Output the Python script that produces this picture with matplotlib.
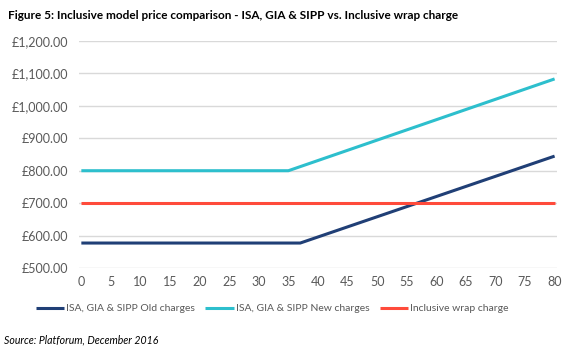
import matplotlib
matplotlib.use("Agg")
import matplotlib.pyplot as plt
from matplotlib.ticker import FuncFormatter, MultipleLocator

# values
old_x = [0, 37, 80]
old_y = [577, 577, 845]
new_x = [0, 35, 80]
new_y = [800, 800, 1083]
wrap_x = [0, 80]
wrap_y = [700, 700]

labels = [
    "ISA, GIA & SIPP Old charges",
    "ISA, GIA & SIPP New charges",
    "Inclusive wrap charge",
]
colors = ["#203F76", "#2DBFCD", "#FF4B3B"]

plt.rcParams["font.family"] = ["Lato", "DejaVu Sans"]

fig = plt.figure(figsize=(5.67, 3.52), dpi=100)
ax = fig.add_axes([0.1393, 0.2386, 0.843, 0.645])

for xs, ys, lab, c in zip((old_x, new_x, wrap_x), (old_y, new_y, wrap_y), labels, colors):
    ax.plot(xs, ys, color=c, lw=2.2, label=lab, solid_capstyle="butt")

ax.set_xlim(-0.4, 80.4)
ax.set_ylim(500, 1200)
ax.xaxis.set_major_locator(MultipleLocator(5))
ax.yaxis.set_major_locator(MultipleLocator(100))
ax.yaxis.set_major_formatter(FuncFormatter(lambda v, p: f"£{v:,.2f}"))
ax.grid(axis="y", color="#D9D9D9", lw=1)
ax.set_axisbelow(True)
for s in ax.spines.values():
    s.set_visible(False)
ax.tick_params(length=0, labelsize=9, colors="#595959", pad=6)
ax.tick_params(axis="y", pad=8)

fig.text(0.014, 0.955, "Figure 5: Inclusive model price comparison - ISA, GIA & SIPP vs. Inclusive wrap charge",
         fontsize=8.5, fontweight="bold", va="center", ha="left")
fig.legend(loc="center", bbox_to_anchor=(0.48, 0.123), ncol=3, frameon=False,
           fontsize=7.5, handlelength=2.7, handletextpad=0.2, columnspacing=1.0,
           labelcolor="#595959")
fig.text(0.007, 0.034, "Source: Platforum, December 2016", fontsize=7.6, style="italic",
         va="center", ha="left")

fig.savefig("out.png", dpi=100)
